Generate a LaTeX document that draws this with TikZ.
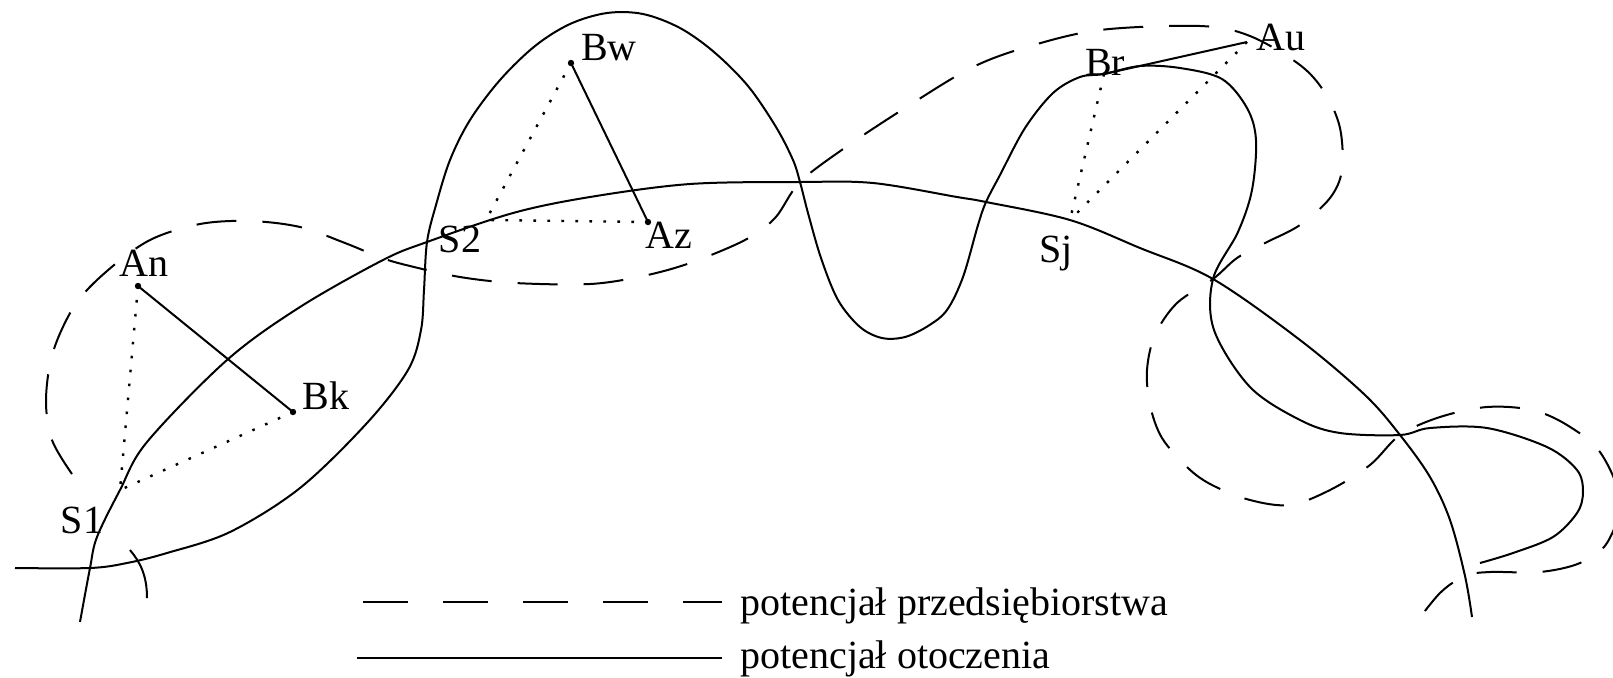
\documentclass[tikz,border=0pt]{standalone}
\usepackage{fontspec}
\setmainfont{Liberation Serif}
\begin{document}
\begin{tikzpicture}[x=0.5pt,y=-0.5pt,
  envline/.style={line width=1pt, line join=round},
  entline/.style={line width=1pt, dash pattern=on 20pt off 13pt},
  guide/.style={line width=1.2pt, dash pattern=on 1.3pt off 5.7pt},
  legdash/.style={line width=1.4pt, dash pattern=on 22.5pt off 17.5pt},
  legsolid/.style={line width=1.4pt},
  lbl/.style={font=\fontsize{20}{24}\selectfont, inner sep=0pt, anchor=base}]
\useasboundingbox (0,0) rectangle (1613,677);
\clip (0,0) rectangle (1613,677);

% points
\coordinate (S1) at (120,490);
\coordinate (S2) at (427,242);
\coordinate (S2p) at (486,220);
\coordinate (Sj) at (1070,220);
\coordinate (An) at (138,286);
\coordinate (Bk) at (293,412);
\coordinate (Bw) at (571,63);
\coordinate (Az) at (648,222);
\coordinate (Br) at (1104,74);
\coordinate (Au) at (1247,42);
\coordinate (X0) at (90,568);
\coordinate (X1) at (800,182);
\coordinate (X2) at (986,202);
\coordinate (X3) at (1213,279);
\coordinate (X4) at (1400,435);
\coordinate (X5) at (1465,576);

% environment potential: main curve
\draw[envline] plot[smooth, tension=0.55] coordinates {(80,622) (X0) (97,537) (S1) (147,442) (227,360) (300,307) (383,260) (S2) (513,213) (590,197) (690,184) (X1) (873,183) (957,197) (X2) (Sj) (1140,248) (X3) (1300,340) (1365,395) (X4) (1430,477) (1450,520) (X5) (1472,617)};

% environment potential: winding curve
\draw[envline] plot[smooth, tension=0.55] coordinates {(15,568) (X0) (127,563) (167,553) (230,532) (300,488) (367,423) (408,370) (421,330) (424,290) (S2) (436,205) (450,160) (470,120) (500,80) (535,46) (570,24) (607,13) (643,14) (680,28) (714,52) (748,86) (776,127) (793,160) (X1) (808,213) (821,258) (838,300) (860,327) (882,338) (905,337) (928,326) (947,310) (963,277) (978,225) (X2) (1000,175) (1025,128) (1053,93) (1080,77) (Br) (1140,66) (1180,68) (1222,79) (1247,108) (1256,140) (1252,190) (1238,232) (X3) (1214,330) (1250,387) (1300,420) (1340,433) (X4) (1430,428) (1487,428) (1547,447) (1577,470) (1583,492) (1577,513) (1553,537) (1513,553) (1480,563)};

% small arc near S1
\draw[envline] (130,550) .. controls (140,562) and (147,575) .. (147,598);

% enterprise potential
\draw[entline] plot[smooth, tension=0.55] coordinates {(72,474) (52,440) (46,400) (53,352) (75,305) (107,271) (150,240) (200,224) (250,221) (300,227) (345,243) (382,258) (410,266) (460,277) (515,283) (590,284) (643,276) (690,263) (745,240) (775,218) (X1) (846,147) (905,108) (971,68) (1027,47) (1100,30) (1200,26) (1250,36) (1300,65) (1325,93) (1340,128) (1342,170) (1330,198) (1300,225) (1265,243) (1237,258) (X3) (1177,303) (1155,335) (1147,370) (1150,405) (1162,438) (1188,468) (1212,485) (1250,500) (1290,505) (1330,490) (1370,465) (X4) (1440,417) (1487,407) (1532,410) (1567,425) (1600,452) (1620,500) (1607,543) (1580,563) (1540,572) (1490,572) (X5) (1440,593) (1412,628)};

% solid segments
\draw[envline] (An) -- (Bk);
\draw[envline] (Bw) -- (Az);
\draw[envline] (Br) -- (Au);

% dotted segments
\draw[guide] (An) -- (S1);
\draw[guide] (Bk) -- (S1);
\draw[guide] (Bw) -- (S2p);
\draw[guide] (Az) -- (S2p);
\draw[guide] (Br) -- (Sj);
\draw[guide] (Au) -- (Sj);

% dots
\foreach \p in {An,Bk,Bw,Az}{\fill (\p) circle (1.6pt);}

% labels
\node[lbl] (lS1) at (82,533) {S1};
\node[lbl] (lAn) at (144,276) {An};
\node[lbl] (lBk) at (326,409) {Bk};
\node[lbl] (lS2) at (460,252) {S2};
\node[lbl] (lBw) at (609,60) {Bw};
\node[lbl] (lAz) at (669,248) {Az};
\node[lbl] (lBr) at (1105,75) {Br};
\node[lbl] (lAu) at (1281,50) {Au};
\node[lbl] (lSj) at (1056,262) {Sj};

% legend
\coordinate (L1a) at (363,602);
\coordinate (L1b) at (722,602);
\coordinate (L2a) at (357,658);
\coordinate (L2b) at (722,658);
\node[lbl, anchor=base west] (leg1) at (740,615) {potencjał przedsiębiorstwa};
\node[lbl, anchor=base west] (leg2) at (740,668) {potencjał otoczenia};
\draw[legdash] (L1a) -- (L1b);
\draw[legsolid] (L2a) -- (L2b);
\end{tikzpicture}
\end{document}
